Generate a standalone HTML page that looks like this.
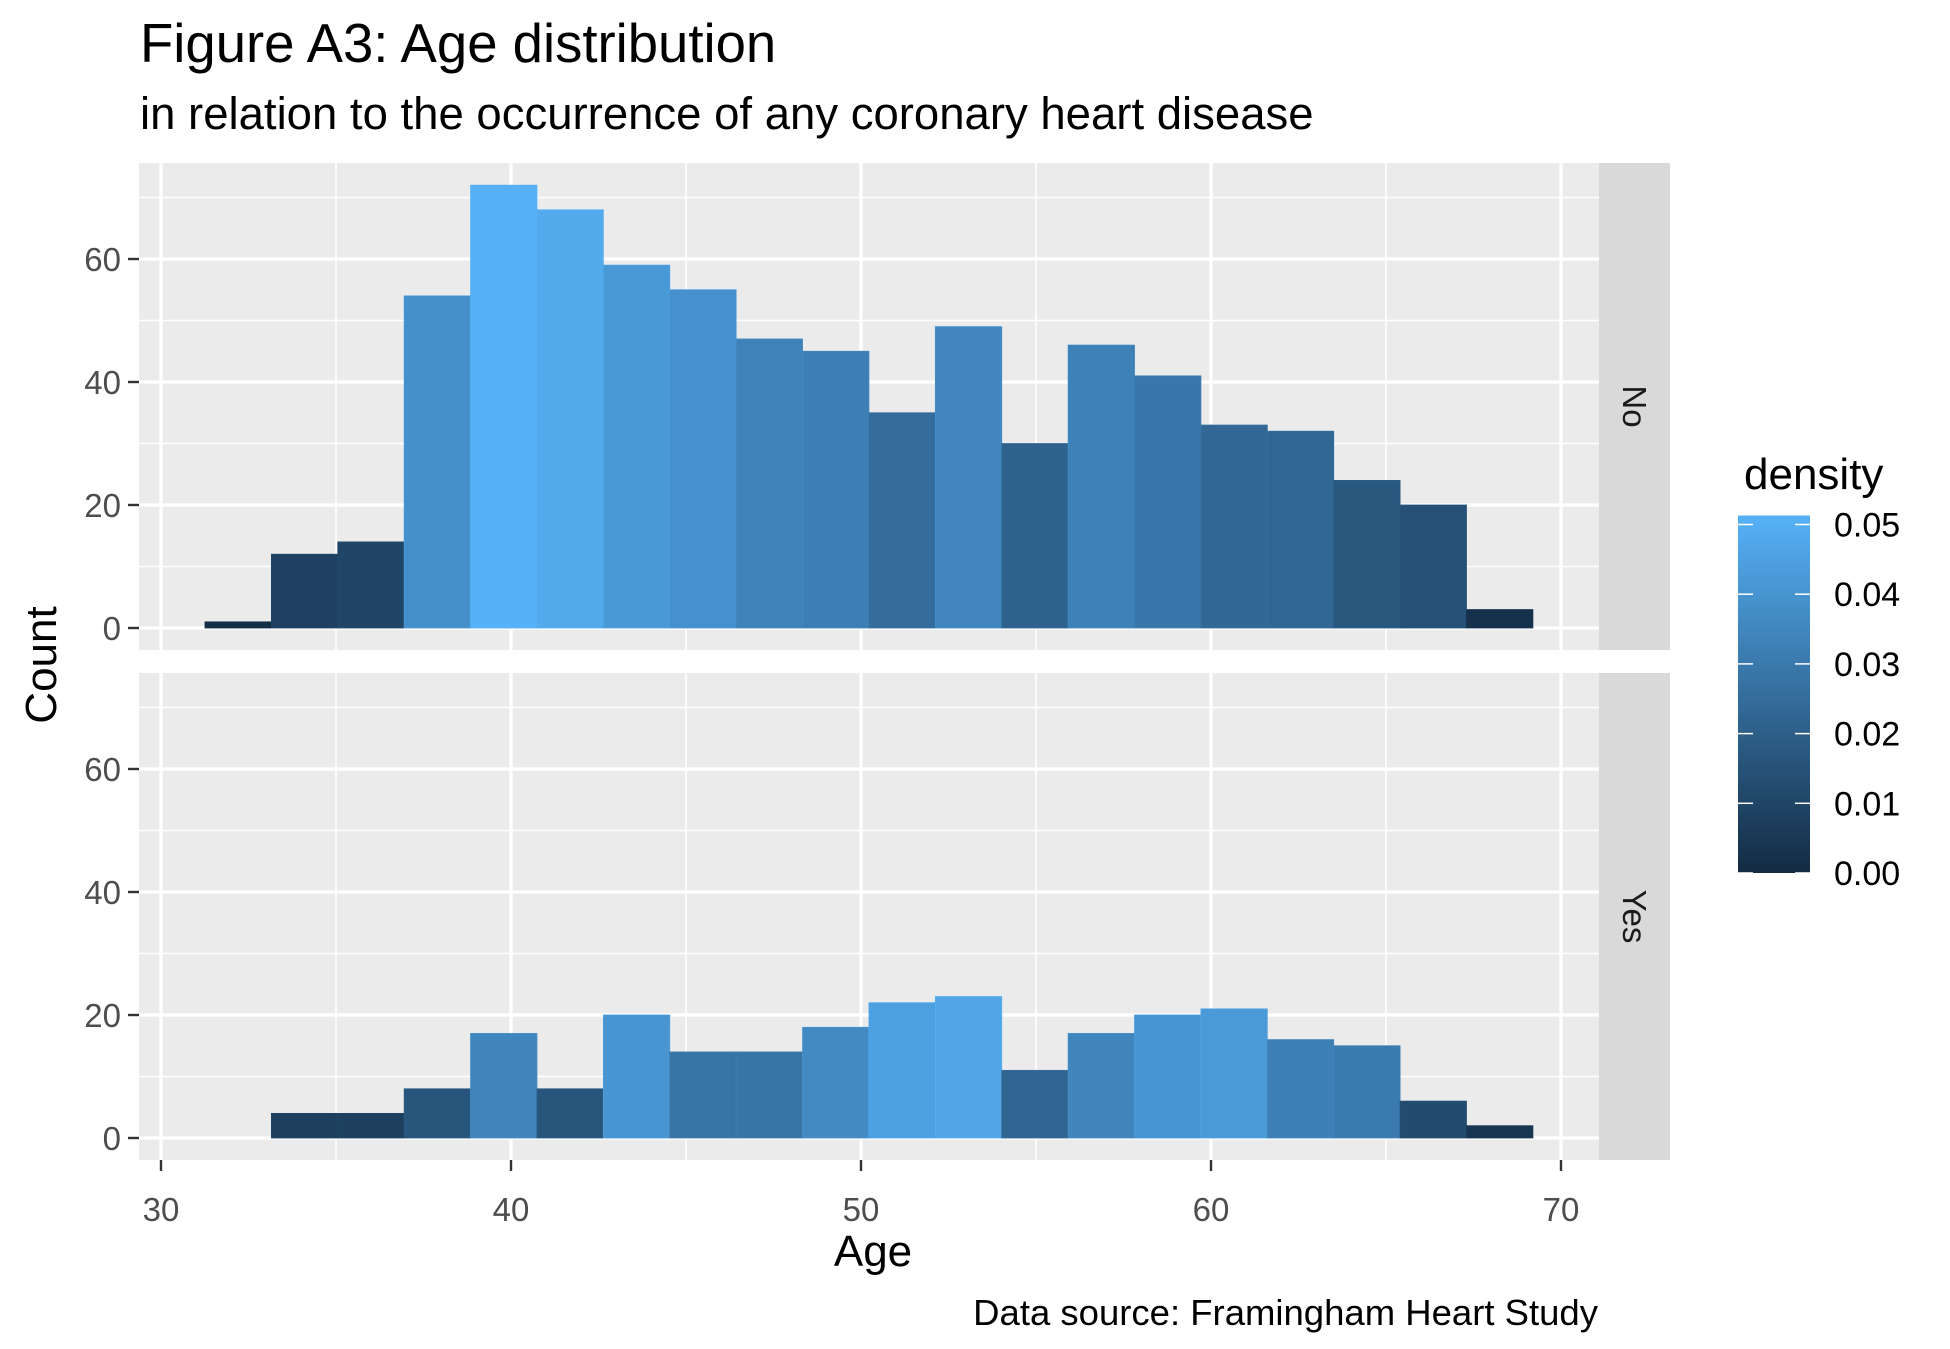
<!DOCTYPE html>
<html><head><meta charset="utf-8"><style>
html,body{margin:0;padding:0;background:#fff;}
svg{display:block;font-family:"Liberation Sans",Arial,sans-serif;}
</style></head><body>
<svg id="chart" width="1950" height="1349" viewBox="0 0 1950 1349">
<text x="140" y="62" font-size="54.5" fill="#000">Figure A3: Age distribution</text>
<text x="140" y="129" font-size="45.5" fill="#000">in relation to the occurrence of any coronary heart disease</text>
<text x="873" y="1266" font-size="44" text-anchor="middle" fill="#000">Age</text>
<text transform="translate(56,665) rotate(-90)" font-size="44" text-anchor="middle" fill="#000">Count</text>
<text x="1598" y="1325" font-size="36.5" text-anchor="end" fill="#000">Data source: Framingham Heart Study</text>
<g id="panels"></g>
<g id="legend"></g>
</svg>
<script>
const binStart = 31.257;
const binWidth = 1.897;
const countsNo = [1,12,14,54,72,68,59,55,47,45,35,49,30,46,41,33,32,24,20,3];
const countsYes = [0,4,4,8,17,8,20,14,14,18,22,23,11,17,20,21,16,15,6,2];
const panelLabels = ["No","Yes"];
const xTicks = [30,40,50,60,70];
const yTicks = [0,20,40,60];
const legendTicks = [0,0.01,0.02,0.03,0.04,0.05];
const legendTickLabels = ["0.00","0.01","0.02","0.03","0.04","0.05"];

const NS = "http://www.w3.org/2000/svg";
const PL = 139, PR = 1599;
const panelsY = [{top:163, zero:628, bottom:650},{top:673, zero:1138, bottom:1160}];
const xs = v => 161 + (v - 30) * 35;
const ysf = p => v => p.zero - v * 6.15;
function el(tag, attrs, parent){ const e=document.createElementNS(NS,tag); for(const k in attrs) e.setAttribute(k,attrs[k]); parent.appendChild(e); return e; }

const sumNo = countsNo.reduce((a,b)=>a+b,0), sumYes = countsYes.reduce((a,b)=>a+b,0);
const dens = (c,n) => c/(n*binWidth);
const maxD = Math.max(...countsNo.map(c=>dens(c,sumNo)), ...countsYes.map(c=>dens(c,sumYes)));
const lo=[0x13,0x2B,0x43], hi=[0x56,0xB1,0xF7];
function col(t){ t=Math.max(0,Math.min(1,t)); return "rgb("+lo.map((a,i)=>Math.round(a+(hi[i]-a)*t)).join(",")+")"; }

const g = document.getElementById("panels");
[countsNo, countsYes].forEach((counts, pi) => {
  const p = panelsY[pi], ys = ysf(p), n = pi===0?sumNo:sumYes;
  const pg = el("g",{},g);
  
  
  el("rect",{x:PL,y:p.top,width:PR-PL,height:p.bottom-p.top,fill:"#EBEBEB"},pg);
  [10,30,50,70].forEach(v=>el("line",{x1:PL,x2:PR,y1:ys(v),y2:ys(v),stroke:"#fff","stroke-width":1.6},pg));
  [35,45,55,65].forEach(v=>el("line",{x1:xs(v),x2:xs(v),y1:p.top,y2:p.bottom,stroke:"#fff","stroke-width":1.6},pg));
  yTicks.forEach(v=>el("line",{x1:PL,x2:PR,y1:ys(v),y2:ys(v),stroke:"#fff","stroke-width":3.2},pg));
  xTicks.forEach(v=>el("line",{x1:xs(v),x2:xs(v),y1:p.top,y2:p.bottom,stroke:"#fff","stroke-width":3.2},pg));
  counts.forEach((c,i)=>{
    if(c<=0) return;
    const x0 = xs(binStart+i*binWidth), x1 = xs(binStart+(i+1)*binWidth);
    const r = el("rect",{x:x0,y:ys(c),width:x1-x0,height:ys(0)-ys(c),fill:col(dens(c,n)/maxD),stroke:col(dens(c,n)/maxD*1.05+0.03),"stroke-width":0.8},pg);
    
    
  });
  yTicks.forEach(v=>{
    el("line",{x1:128,x2:PL,y1:ys(v),y2:ys(v),stroke:"#333","stroke-width":2.4},pg);
    const t = el("text",{x:121,y:ys(v)+12,"font-size":33,"text-anchor":"end",fill:"#4D4D4D"},pg);
    t.textContent = v;
    
    
  });
  el("rect",{x:PR,y:p.top,width:71,height:p.bottom-p.top,fill:"#D9D9D9"},pg);
  const s = el("text",{transform:"translate("+(PR+24)+","+((p.top+p.bottom)/2)+") rotate(90)","font-size":33,"text-anchor":"middle",fill:"#1A1A1A"},pg);
  s.textContent = panelLabels[pi];
  
  
});
xTicks.forEach(v=>{
  el("line",{x1:xs(v),x2:xs(v),y1:1160,y2:1171,stroke:"#333","stroke-width":2.4},g);
  const t = el("text",{x:xs(v),y:1221,"font-size":33,"text-anchor":"middle",fill:"#4D4D4D"},g);
  t.textContent = v;
  
  
});

// legend
const lg = document.getElementById("legend");
const LX=1738, LW=72, L0=873, perUnit=6970;
const ly = v => L0 - v*perUnit;
const topY = ly(maxD);
const defs = el("defs",{},lg);
const grad = el("linearGradient",{id:"lgrad",x1:0,y1:1,x2:0,y2:0},defs);
el("stop",{offset:0,"stop-color":col(0)},grad);
el("stop",{offset:1,"stop-color":col(1)},grad);
el("rect",{x:LX,y:topY,width:LW,height:L0-topY,fill:"url(#lgrad)"},lg);
legendTicks.forEach((v,i)=>{
  el("line",{x1:LX,x2:LX+15,y1:ly(v),y2:ly(v),stroke:"#fff","stroke-width":1.5},lg);
  el("line",{x1:LX+LW-15,x2:LX+LW,y1:ly(v),y2:ly(v),stroke:"#fff","stroke-width":1.5},lg);
  const t = el("text",{x:1834,y:ly(v)+12,"font-size":34,fill:"#000"},lg);
  t.textContent = legendTickLabels[i];
  
  
});
const lt = el("text",{x:1744,y:489,"font-size":44,fill:"#000"},lg);
lt.textContent = "density";


</script>
</body></html>
